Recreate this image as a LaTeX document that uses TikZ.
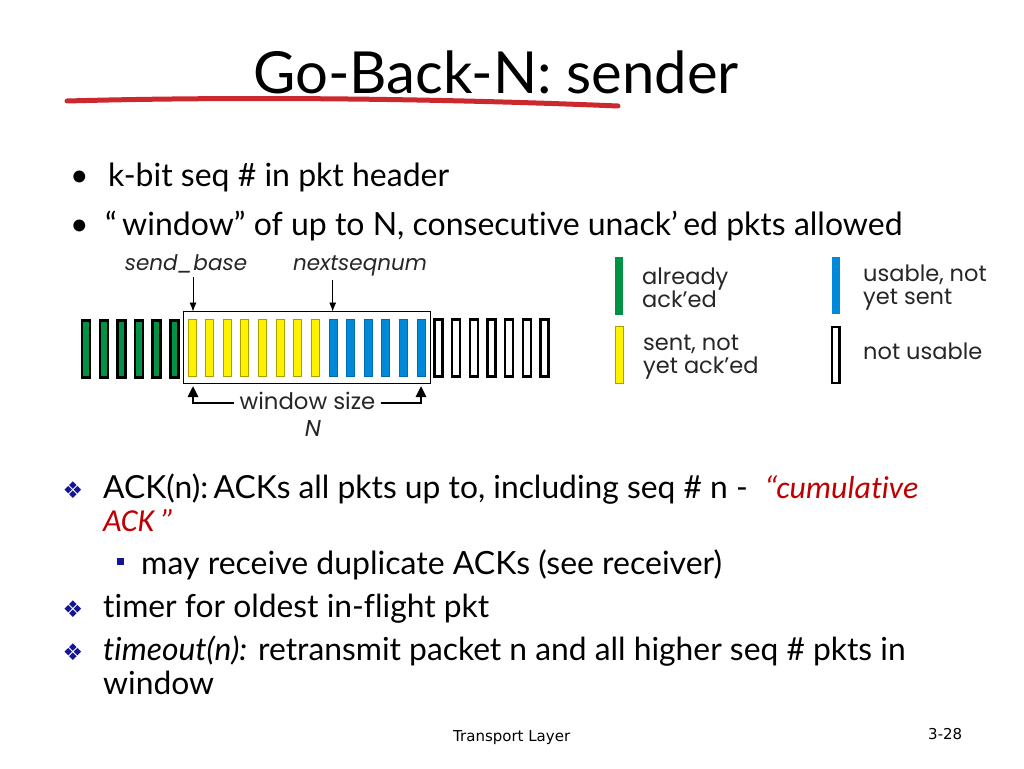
\documentclass[tikz,border=0pt]{standalone}
\usepackage{fontspec}
\setmainfont{Lato}[Ligatures={NoCommon}]
\newfontfamily\gill{Lato}[Ligatures={NoCommon}]
\newfontfamily\calfont{Carlito}[Ligatures={NoCommon}]
\newfontfamily\goth{Poppins}
\newfontfamily\tah{DejaVu Sans}
\newfontfamily\dej{DejaVu Sans}
\usetikzlibrary{arrows.meta}
\definecolor{slred}{RGB}{204,41,47}
\definecolor{ackred}{RGB}{192,0,0}
\definecolor{navy}{RGB}{20,20,150}
\definecolor{pgreen}{RGB}{0,146,69}
\definecolor{pyellow}{RGB}{255,242,0}
\definecolor{pyeledge}{RGB}{170,160,0}
\definecolor{pblue}{RGB}{0,137,217}
\tikzset{
  pkt/.style={rectangle, inner sep=0pt, minimum width=8pt, minimum height=57pt},
  gpkt/.style={pkt, fill=pgreen, draw=black, line width=2.4pt},
  ypkt/.style={pkt, fill=pyellow, draw=pyeledge, line width=0.8pt},
  bpkt/.style={pkt, fill=pblue, draw=pblue!80!black, line width=0.6pt},
  wpkt/.style={pkt, fill=white, draw=black, line width=2.4pt},
  body/.style={anchor=base west, inner sep=0pt, font=\gill\fontsize{32}{38}\selectfont},
  bodyb/.style={anchor=base west, inner sep=0pt, font=\gill\fontsize{31.8}{38}\selectfont},
  diag/.style={anchor=base west, inner sep=0pt, font=\goth\fontsize{22.5}{26}\selectfont, text=black!85},
  lbl/.style={anchor=base, inner sep=0pt, font=\goth\itshape\fontsize{21.5}{24}\selectfont, text=black!85},
  thinarrow/.style={-{Latex[length=9pt,width=7pt]}, line width=0.8pt},
  thickarrow/.style={-{Triangle[length=11pt,width=10pt]}, line width=2.6pt},
  diamb/.style={anchor=center, inner sep=0pt, text=navy, font=\dej\fontsize{23}{23}\selectfont},
}
\begin{document}
\begin{tikzpicture}[x=1pt,y=-1pt]
\useasboundingbox (0,0) rectangle (1024,768);
\fill[white] (0,0) rectangle (1024,768);

% title
\node[anchor=base west, inner sep=0pt, font=\gill\fontsize{58}{60}\selectfont] (title) at (253,93) {Go-Back-N: sender};
\draw[slred, line width=5pt, line cap=round] (67,101) .. controls (250,96) and (450,99) .. (618,106);

% top bullets
\node[body] (b1) at (70,186) {\textbullet};
\node[body] (t1) at (108,186) {k-bit seq \# in pkt header};
\node[body] (b2) at (70,235) {\textbullet};
\node[body] (t2) at (105,235) {“\,window” of up to N, consecutive unack’\,ed pkts allowed};

% window box
\draw[line width=1.2pt] (183.3,311.7) rectangle (430.7,383.3);
\node[inner sep=0pt, minimum width=247.4pt, minimum height=71.6pt] (win) at (307,347.5) {};

% packets
\foreach \k in {0,...,5}{\node[gpkt] (p\k) at (86.2+\k*17.62,349) {};}
\foreach \k in {6,...,13}{\node[ypkt] (p\k) at (86.2+\k*17.62,348) {};}
\foreach \k in {14,...,19}{\node[bpkt] (p\k) at (86.2+\k*17.62,348) {};}
\foreach \k in {20,...,26}{\node[wpkt] (p\k) at (86.2+\k*17.62,348) {};}

% labels and pointer arrows
\node[lbl] (sb) at (186,270) {send\_base};
\node[lbl] (ns) at (360,270) {nextseqnum};
\coordinate (sbs) at (193,277);
\coordinate (nss) at (332.7,280);
\draw[thinarrow] (sbs) -- (sbs |- win.north);
\draw[thinarrow] (nss) -- (nss |- win.north);

% window size
\node[anchor=center, inner sep=5pt, font=\goth\fontsize{22.8}{24}\selectfont, text=black!85] (ws) at (307.5,401) {window size};
\node[anchor=base, inner sep=0pt, font=\goth\itshape\fontsize{23}{24}\selectfont, text=black!85] (wn) at (313,436) {N};
\draw[thickarrow] (ws.west |- 0,403) -- (193,403) -- (193,386);
\draw[thickarrow] (ws.east |- 0,403) -- (421,403) -- (421,386);

% legend
\fill[pgreen] (615,257) rectangle (623,315);
\node[inner sep=0pt, minimum width=8pt, minimum height=58pt] (lg) at (619,286) {};
\fill[pblue] (832,257) rectangle (839.5,314);
\node[inner sep=0pt, minimum width=8pt, minimum height=57pt] (lb) at (836,285.5) {};
\filldraw[fill=pyellow, draw=pyeledge, line width=0.8pt] (615,326) rectangle (623,383);
\node[inner sep=0pt, minimum width=8pt, minimum height=57pt] (ly) at (619,354.5) {};
\draw[line width=2.4pt] (832,327) rectangle (839.5,383);
\node[inner sep=0pt, minimum width=8pt, minimum height=57pt] (lw) at (836,355) {};
\node[diag] (lgt) at (642,284) {already};
\node[diag] (lgt2) at (642,307) {ack’ed};
\node[diag] (lbt) at (863,281) {usable, not};
\node[diag] (lbt2) at (863,304) {yet sent};
\node[diag] (lyt) at (643,350) {sent, not};
\node[diag] (lyt2) at (643,373) {yet ack’ed};
\node[diag] (lwt) at (863,359) {not usable};

% bottom bullets
\node[diamb] (d1) at (73,490) {❖};
\node[bodyb] (a1) at (103,498) {ACK(n):\,ACKs all pkts up to, including seq \# n -\ \ {\calfont\itshape\color{ackred}“cumulative}};
\node[bodyb, font=\calfont\itshape\fontsize{32}{38}\selectfont, text=ackred] (a2) at (103,531) {ACK ”};
\fill[navy] (117,558) rectangle (123.5,565);
\node[inner sep=0pt, minimum size=6.5pt] (sq) at (120.2,561.5) {};
\node[body] (s1) at (141,574) {may receive duplicate ACKs (see receiver)};
\node[diamb] (d2) at (73,609) {❖};
\node[bodyb] (a3) at (103,617) {timer for oldest in-flight pkt};
\node[diamb] (d3) at (73,652) {❖};
\node[bodyb] (a4) at (103,660) {\textit{timeout(n):} retransmit packet n and all higher seq \# pkts in};
\node[bodyb] (a5) at (103,694) {window};

% footer
\node[anchor=base west, inner sep=0pt, font=\tah\fontsize{15}{18}\selectfont] (ft) at (453,741) {Transport Layer};
\node[anchor=base west, inner sep=0pt, font=\tah\fontsize{15}{18}\selectfont] (pg) at (928,739) {3-28};
\end{tikzpicture}
\end{document}
